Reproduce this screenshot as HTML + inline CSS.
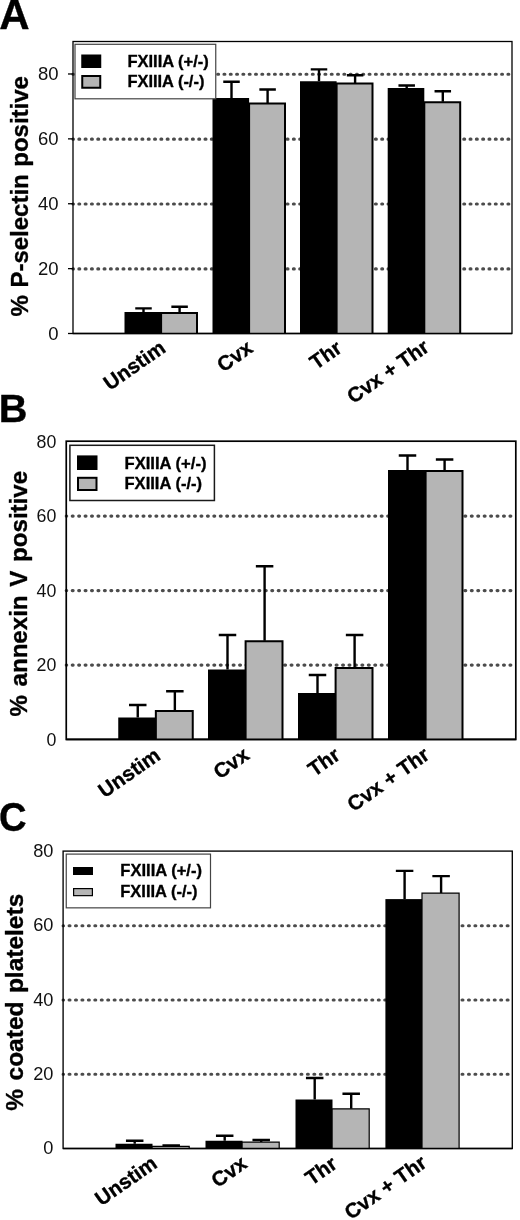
<!DOCTYPE html>
<html lang="en"><head><meta charset="utf-8"><title>Figure</title>
<style>
html,body{margin:0;padding:0;background:#fff;}
svg{display:block;}
text{font-family:"Liberation Sans", Arial, Helvetica, sans-serif;fill:#000;}
.grid{stroke:#4c4c4c;stroke-width:3.1;stroke-linecap:round;fill:none;}
.frame{fill:none;}
.axis{stroke:#222;stroke-width:1.4;}
.tick{stroke:#000;stroke-width:1.3;}
.tl{fill:#111;}
.bk{fill:#000;stroke:none;}
.gy{fill:#b5b5b5;stroke:#000;}
.err{stroke:#000;stroke-width:2.4;fill:none;}
.xl,.yt,.pl,.lt{font-weight:bold;stroke:#000;stroke-width:0.35;stroke-linejoin:round;}
.lgbox{fill:#fff;}
</style></head>
<body>
<svg width="520" height="1220" viewBox="0 0 520 1220">
<rect x="0" y="0" width="520" height="1220" fill="#fff"/>
<g id="panelA">
<line x1="73" y1="268.92" x2="510" y2="268.92" class="grid" stroke-dasharray="0.9 5.410" stroke-dashoffset="0.45"/>
<line x1="73" y1="204.04" x2="510" y2="204.04" class="grid" stroke-dasharray="0.9 5.410" stroke-dashoffset="0.45"/>
<line x1="73" y1="139.16" x2="510" y2="139.16" class="grid" stroke-dasharray="0.9 5.410" stroke-dashoffset="0.45"/>
<line x1="73" y1="74.28" x2="510" y2="74.28" class="grid" stroke-dasharray="0.9 5.410" stroke-dashoffset="0.45"/>
<rect x="73" y="41.5" width="439" height="292.0" class="frame" stroke="#000" stroke-width="1.3"/>
<line x1="68" y1="333.50" x2="73" y2="333.50" class="tick"/>
<text x="58.5" y="340.00" class="tl" text-anchor="end" font-size="18.5">0</text>
<line x1="68" y1="268.62" x2="73" y2="268.62" class="tick"/>
<text x="58.5" y="275.12" class="tl" text-anchor="end" font-size="18.5">20</text>
<line x1="68" y1="203.74" x2="73" y2="203.74" class="tick"/>
<text x="58.5" y="210.24" class="tl" text-anchor="end" font-size="18.5">40</text>
<line x1="68" y1="138.86" x2="73" y2="138.86" class="tick"/>
<text x="58.5" y="145.36" class="tl" text-anchor="end" font-size="18.5">60</text>
<line x1="68" y1="73.98" x2="73" y2="73.98" class="tick"/>
<text x="58.5" y="80.48" class="tl" text-anchor="end" font-size="18.5">80</text>
<path d="M143.50 312.00V308.40M135.25 308.40H151.75" class="err"/>
<rect x="124.50" y="312.00" width="36.60" height="21.50" class="bk"/>
<path d="M179.60 312.40V306.80M171.35 306.80H187.85" class="err"/>
<rect x="161.10" y="312.90" width="35.90" height="20.60" fill="#b5b5b5"/>
<path d="M161.10 333.50V312.90H197.00V333.50" fill="none" stroke="#000" stroke-width="2"/>
<path d="M231.50 98.00V81.75M223.25 81.75H239.75" class="err"/>
<rect x="212.50" y="98.00" width="36.60" height="235.50" class="bk"/>
<path d="M267.60 103.00V89.50M259.35 89.50H275.85" class="err"/>
<rect x="249.10" y="103.50" width="35.90" height="230.00" fill="#b5b5b5"/>
<path d="M249.10 333.50V103.50H285.00V333.50" fill="none" stroke="#000" stroke-width="2"/>
<path d="M319.00 81.25V69.40M310.75 69.40H327.25" class="err"/>
<rect x="300.00" y="81.25" width="36.60" height="252.25" class="bk"/>
<path d="M355.10 83.00V75.20M346.85 75.20H363.35" class="err"/>
<rect x="336.60" y="83.50" width="35.90" height="250.00" fill="#b5b5b5"/>
<path d="M336.60 333.50V83.50H372.50V333.50" fill="none" stroke="#000" stroke-width="2"/>
<path d="M406.70 88.00V85.50M398.45 85.50H414.95" class="err"/>
<rect x="387.70" y="88.00" width="36.60" height="245.50" class="bk"/>
<path d="M442.80 101.75V91.25M434.55 91.25H451.05" class="err"/>
<rect x="424.30" y="102.25" width="35.90" height="231.25" fill="#b5b5b5"/>
<path d="M424.30 333.50V102.25H460.20V333.50" fill="none" stroke="#000" stroke-width="2"/>
<line x1="73" y1="333.5" x2="512" y2="333.5" stroke="#000" stroke-width="1.3"/>
<text transform="translate(166.9 350.9) rotate(-35)" text-anchor="end" class="xl" font-size="20.6">Unstim</text>
<text transform="translate(254.25 351.0) rotate(-35)" text-anchor="end" class="xl" font-size="20.6">Cvx</text>
<text transform="translate(343.3 351.1) rotate(-35)" text-anchor="end" class="xl" font-size="20.6">Thr</text>
<text transform="translate(430.6 350.1) rotate(-35)" text-anchor="end" class="xl" font-size="20.6">Cvx + Thr</text>
<text transform="translate(27.9 196.25) rotate(-90)" text-anchor="middle" class="yt" font-size="24" style="word-spacing:0.8px">% P-selectin positive</text>
<text transform="translate(-0.7 28.6) scale(1.1 1.1)" class="pl" font-size="38.2">A</text>
<rect x="75" y="44.3" width="140.75" height="54.5" class="lgbox" stroke="#444" stroke-width="1.2"/>
<rect x="81.25" y="54.5" width="20" height="13.5" class="bk"/>
<rect x="82.25" y="76.0" width="18" height="11.75" class="gy" stroke-width="2"/>
<text x="127.4" y="67.1" class="lt" font-size="16.5" textLength="81.4" lengthAdjust="spacingAndGlyphs">FXIIIA (+/-)</text>
<text x="127.4" y="86.6" class="lt" font-size="16.5" textLength="77.0" lengthAdjust="spacingAndGlyphs">FXIIIA (-/-)</text>
</g>
<g id="panelB">
<line x1="66.25" y1="665.10" x2="513.8" y2="665.10" class="grid" stroke-dasharray="0.9 5.537" stroke-dashoffset="0.45"/>
<line x1="66.25" y1="590.60" x2="513.8" y2="590.60" class="grid" stroke-dasharray="0.9 5.537" stroke-dashoffset="0.45"/>
<line x1="66.25" y1="516.10" x2="513.8" y2="516.10" class="grid" stroke-dasharray="0.9 5.537" stroke-dashoffset="0.45"/>
<rect x="66.25" y="441.2" width="449.54999999999995" height="298.25000000000006" class="frame" stroke="#000" stroke-width="1.7"/>
<text x="56.4" y="745.80" class="tl" text-anchor="end" font-size="17.8">0</text>
<text x="56.4" y="671.30" class="tl" text-anchor="end" font-size="17.8">20</text>
<text x="56.4" y="596.80" class="tl" text-anchor="end" font-size="17.8">40</text>
<text x="56.4" y="522.30" class="tl" text-anchor="end" font-size="17.8">60</text>
<text x="56.4" y="447.80" class="tl" text-anchor="end" font-size="17.8">80</text>
<path d="M137.75 717.50V705.00M129.00 705.00H146.50" class="err"/>
<rect x="118.25" y="717.50" width="37.60" height="21.80" class="bk"/>
<path d="M174.85 710.50V691.25M166.10 691.25H183.60" class="err"/>
<rect x="155.85" y="711.00" width="36.90" height="28.30" fill="#b5b5b5"/>
<path d="M155.85 739.30V711.00H192.75V739.30" fill="none" stroke="#000" stroke-width="2"/>
<path d="M227.50 669.50V635.00M218.75 635.00H236.25" class="err"/>
<rect x="208.00" y="669.50" width="37.60" height="69.80" class="bk"/>
<path d="M264.60 640.75V566.25M255.85 566.25H273.35" class="err"/>
<rect x="245.60" y="641.25" width="36.90" height="98.05" fill="#b5b5b5"/>
<path d="M245.60 739.30V641.25H282.50V739.30" fill="none" stroke="#000" stroke-width="2"/>
<path d="M317.50 693.00V675.00M308.75 675.00H326.25" class="err"/>
<rect x="298.00" y="693.00" width="37.60" height="46.30" class="bk"/>
<path d="M354.60 667.50V635.00M345.85 635.00H363.35" class="err"/>
<rect x="335.60" y="668.00" width="36.90" height="71.30" fill="#b5b5b5"/>
<path d="M335.60 739.30V668.00H372.50V739.30" fill="none" stroke="#000" stroke-width="2"/>
<path d="M407.50 470.00V455.50M398.75 455.50H416.25" class="err"/>
<rect x="388.00" y="470.00" width="37.60" height="269.30" class="bk"/>
<path d="M444.60 470.50V459.50M435.85 459.50H453.35" class="err"/>
<rect x="425.60" y="471.00" width="36.90" height="268.30" fill="#b5b5b5"/>
<path d="M425.60 739.30V471.00H462.50V739.30" fill="none" stroke="#000" stroke-width="2"/>
<line x1="66.25" y1="739.45" x2="515.8" y2="739.45" stroke="#000" stroke-width="1.7"/>
<text transform="translate(161.7 758.4) rotate(-35)" text-anchor="end" class="xl" font-size="20.6">Unstim</text>
<text transform="translate(250.6 758.0) rotate(-35)" text-anchor="end" class="xl" font-size="20.6">Cvx</text>
<text transform="translate(341.5 758.2) rotate(-35)" text-anchor="end" class="xl" font-size="20.6">Thr</text>
<text transform="translate(430.9 758.0) rotate(-35)" text-anchor="end" class="xl" font-size="20.6">Cvx + Thr</text>
<text transform="translate(26.9 593.75) rotate(-90)" text-anchor="middle" class="yt" font-size="24.1" style="word-spacing:2.0px">% annexin V positive</text>
<text transform="translate(-1.2 422.4) scale(1.04 1.012)" class="pl" font-size="38.2">B</text>
<rect x="69.9" y="445.3" width="144.5" height="55.2" class="lgbox" stroke="#1a1a1a" stroke-width="1.5"/>
<rect x="77" y="455.4" width="20.5" height="14.600000000000023" class="bk"/>
<rect x="78.0" y="477.8" width="18.5" height="12.199999999999989" class="gy" stroke-width="2"/>
<text x="124.5" y="468.6" class="lt" font-size="16.5" textLength="82.0" lengthAdjust="spacingAndGlyphs">FXIIIA (+/-)</text>
<text x="124.5" y="489.3" class="lt" font-size="16.5" textLength="77.6" lengthAdjust="spacingAndGlyphs">FXIIIA (-/-)</text>
</g>
<g id="panelC">
<line x1="63.1" y1="1074.23" x2="510.29999999999995" y2="1074.23" class="grid" stroke-dasharray="0.9 5.542" stroke-dashoffset="0.45"/>
<line x1="63.1" y1="999.97" x2="510.29999999999995" y2="999.97" class="grid" stroke-dasharray="0.9 5.542" stroke-dashoffset="0.45"/>
<line x1="63.1" y1="925.70" x2="510.29999999999995" y2="925.70" class="grid" stroke-dasharray="0.9 5.542" stroke-dashoffset="0.45"/>
<rect x="63.1" y="851.1" width="449.19999999999993" height="297.4" class="frame" stroke="#000" stroke-width="1.35"/>
<text x="53.4" y="1154.10" class="tl" text-anchor="end" font-size="18.2">0</text>
<text x="53.4" y="1079.83" class="tl" text-anchor="end" font-size="18.2">20</text>
<text x="53.4" y="1005.57" class="tl" text-anchor="end" font-size="18.2">40</text>
<text x="53.4" y="931.30" class="tl" text-anchor="end" font-size="18.2">60</text>
<text x="53.4" y="857.04" class="tl" text-anchor="end" font-size="18.2">80</text>
<path d="M134.70 1143.75V1140.75M125.95 1140.75H143.45" class="err"/>
<rect x="115.50" y="1143.75" width="37.00" height="4.75" class="bk"/>
<path d="M171.20 1146.25V1145.50M162.45 1145.50H179.95" class="err"/>
<rect x="152.10" y="1146.35" width="37.10" height="2.15" fill="#b5b5b5"/>
<path d="M152.10 1148.50V1146.35H189.20V1148.50" fill="none" stroke="#000" stroke-width="1.2"/>
<path d="M224.70 1140.75V1135.75M215.95 1135.75H233.45" class="err"/>
<rect x="205.50" y="1140.75" width="37.00" height="7.75" class="bk"/>
<path d="M261.20 1142.00V1140.00M252.45 1140.00H269.95" class="err"/>
<rect x="242.10" y="1142.10" width="37.10" height="6.40" fill="#b5b5b5"/>
<path d="M242.10 1148.50V1142.10H279.20V1148.50" fill="none" stroke="#000" stroke-width="1.2"/>
<path d="M314.70 1099.50V1078.00M305.95 1078.00H323.45" class="err"/>
<rect x="295.50" y="1099.50" width="37.00" height="49.00" class="bk"/>
<path d="M351.20 1108.75V1093.75M342.45 1093.75H359.95" class="err"/>
<rect x="332.10" y="1108.85" width="37.10" height="39.65" fill="#b5b5b5"/>
<path d="M332.10 1148.50V1108.85H369.20V1148.50" fill="none" stroke="#000" stroke-width="1.2"/>
<path d="M404.60 899.10V870.90M395.85 870.90H413.35" class="err"/>
<rect x="385.40" y="899.10" width="37.00" height="249.40" class="bk"/>
<path d="M441.10 893.00V876.10M432.35 876.10H449.85" class="err"/>
<rect x="422.00" y="893.10" width="37.10" height="255.40" fill="#b5b5b5"/>
<path d="M422.00 1148.50V893.10H459.10V1148.50" fill="none" stroke="#000" stroke-width="1.2"/>
<line x1="63.1" y1="1148.5" x2="512.3" y2="1148.5" stroke="#000" stroke-width="1.35"/>
<text transform="translate(158.5 1166.5) rotate(-35)" text-anchor="end" class="xl" font-size="20.6">Unstim</text>
<text transform="translate(248.4 1166.5) rotate(-35)" text-anchor="end" class="xl" font-size="20.6">Cvx</text>
<text transform="translate(338.6 1167.0) rotate(-35)" text-anchor="end" class="xl" font-size="20.6">Thr</text>
<text transform="translate(428.0 1166.0) rotate(-35)" text-anchor="end" class="xl" font-size="20.6">Cvx + Thr</text>
<text transform="translate(23.1 1002.2) rotate(-90)" text-anchor="middle" class="yt" font-size="24.5" style="word-spacing:1.6px">% coated platelets</text>
<text transform="translate(-1.0 830.5) scale(1.0 1.042)" class="pl" font-size="38.2">C</text>
<rect x="66.25" y="854.1" width="144.25" height="53.75" class="lgbox" stroke="#444" stroke-width="1.2"/>
<rect x="73" y="867" width="20" height="8" class="bk"/>
<rect x="73.6" y="888.6" width="18.8" height="7.05" class="gy" stroke-width="1.2"/>
<text x="120.3" y="876.1" class="lt" font-size="16.5" textLength="81.7" lengthAdjust="spacingAndGlyphs">FXIIIA (+/-)</text>
<text x="120.3" y="896.8" class="lt" font-size="16.5" textLength="77.2" lengthAdjust="spacingAndGlyphs">FXIIIA (-/-)</text>
</g>
</svg>
</body></html>
